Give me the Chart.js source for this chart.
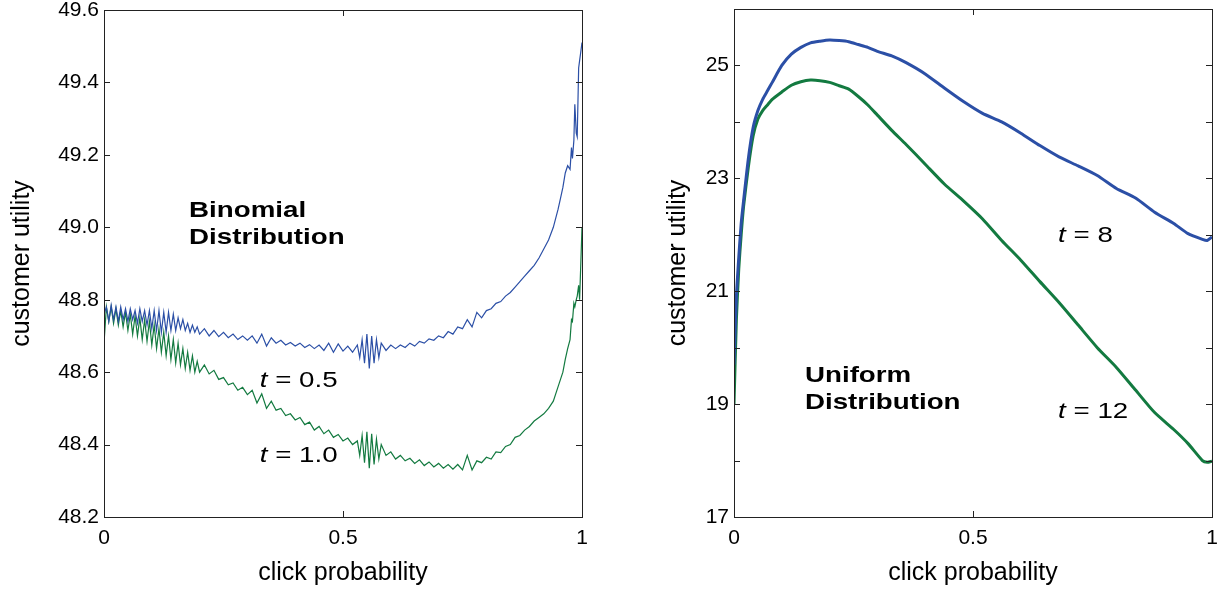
<!DOCTYPE html>
<html>
<head>
<meta charset="utf-8">
<script src="https://cdn.jsdelivr.net/npm/chart.js@4.4.1/dist/chart.umd.min.js"></script>
<style>
  html, body { margin: 0; padding: 0; background: #fff; }
  .box { position: absolute; top: 0; height: 592px; }
  #leftBox { left: 0; width: 600px; }
  #rightBox { left: 650px; width: 573px; }
</style>
</head>
<body>
<div class="box" id="leftBox"><canvas id="binomChart"></canvas></div>
<div class="box" id="rightBox"><canvas id="uniformChart"></canvas></div>
<script>
// Left panel: binomial distribution, click probability vs customer utility
const binomProb = [
  0, 0.005, 0.01, 0.015, 0.02, 0.025, 0.03, 0.035, 0.04, 0.045,
  0.05, 0.055, 0.06, 0.065, 0.07, 0.075, 0.08, 0.085, 0.09, 0.095,
  0.1, 0.105, 0.11, 0.115, 0.12, 0.125, 0.13, 0.135, 0.14, 0.145,
  0.15, 0.155, 0.16, 0.165, 0.17, 0.175, 0.18, 0.185, 0.19, 0.195, 0.2,
  0.21, 0.22, 0.23, 0.24, 0.25, 0.26, 0.27, 0.28, 0.29, 0.30,
  0.31, 0.32, 0.33, 0.34, 0.35, 0.36, 0.37, 0.38, 0.39, 0.40,
  0.41, 0.42, 0.43, 0.44, 0.45, 0.46, 0.47, 0.48, 0.49, 0.50,
  0.51, 0.52, 0.53,
  0.535, 0.54, 0.545, 0.55, 0.555, 0.56, 0.565, 0.57, 0.575, 0.58,
  0.59, 0.60, 0.61, 0.62, 0.63, 0.64, 0.65, 0.66, 0.67, 0.68,
  0.69, 0.70, 0.71, 0.72, 0.73, 0.74, 0.75, 0.76, 0.77, 0.78,
  0.79, 0.80, 0.81, 0.82, 0.83, 0.84, 0.85, 0.86, 0.87, 0.88,
  0.89, 0.90, 0.91, 0.92, 0.93, 0.94, 0.95,
  0.955, 0.96, 0.965, 0.97, 0.975, 0.978, 0.98, 0.983, 0.985, 0.988,
  0.99, 0.993, 0.995, 0.997, 1.0
];

// t = 0.5 (blue)
const binomT05 = [
  48.76, 48.78, 48.74, 48.785, 48.745, 48.78, 48.74, 48.78, 48.745, 48.775,
  48.74, 48.775, 48.745, 48.77, 48.735, 48.775, 48.74, 48.77, 48.73, 48.77,
  48.72, 48.77, 48.715, 48.77, 48.71, 48.765, 48.71, 48.765, 48.715, 48.76,
  48.715, 48.75, 48.72, 48.745, 48.715, 48.735, 48.71, 48.73, 48.71, 48.725, 48.705,
  48.72, 48.70, 48.715, 48.698, 48.71, 48.695, 48.705, 48.69, 48.70, 48.688,
  48.70, 48.68, 48.705, 48.672, 48.695, 48.68, 48.688, 48.675, 48.682, 48.672,
  48.68, 48.668, 48.676, 48.665, 48.675, 48.66, 48.68, 48.655, 48.678, 48.658,
  48.672, 48.655, 48.675,
  48.64, 48.69, 48.625, 48.705, 48.61, 48.70, 48.625, 48.69, 48.64, 48.68,
  48.66, 48.675, 48.665, 48.675, 48.668, 48.68, 48.672, 48.685, 48.68, 48.692,
  48.688, 48.70, 48.695, 48.712, 48.705, 48.725, 48.72, 48.745, 48.725, 48.765,
  48.75, 48.77, 48.775, 48.79, 48.795, 48.81, 48.82, 48.835, 48.85, 48.865,
  48.88, 48.895, 48.915, 48.94, 48.965, 49.0, 49.05,
  49.08, 49.11, 49.15, 49.17, 49.16, 49.22, 49.19, 49.24, 49.34, 49.26,
  49.25, 49.44, 49.46, 49.48, 49.51
];

// t = 1.0 (green)
const binomT10 = [
  48.68, 48.78, 48.74, 48.78, 48.735, 48.775, 48.73, 48.77, 48.725, 48.765,
  48.715, 48.76, 48.705, 48.755, 48.70, 48.75, 48.69, 48.745, 48.685, 48.74,
  48.675, 48.73, 48.665, 48.72, 48.655, 48.71, 48.645, 48.70, 48.635, 48.69,
  48.625, 48.68, 48.62, 48.665, 48.61, 48.655, 48.605, 48.645, 48.60, 48.63, 48.60,
  48.62, 48.595, 48.605, 48.58, 48.585, 48.565, 48.57, 48.55, 48.558, 48.538,
  48.55, 48.515, 48.54, 48.50, 48.52, 48.495, 48.50, 48.48, 48.485, 48.468,
  48.475, 48.455, 48.462, 48.44, 48.45, 48.43, 48.44, 48.42, 48.428, 48.41,
  48.418, 48.40, 48.41,
  48.37, 48.425, 48.35, 48.435, 48.335, 48.43, 48.345, 48.415, 48.36, 48.40,
  48.37, 48.38, 48.36, 48.37, 48.355, 48.362, 48.348, 48.358, 48.342, 48.352,
  48.338, 48.348, 48.335, 48.345, 48.332, 48.345, 48.33, 48.37, 48.33, 48.355,
  48.35, 48.365, 48.36, 48.38, 48.378, 48.395, 48.40, 48.42, 48.425, 48.44,
  48.45, 48.465, 48.475, 48.485, 48.50, 48.52, 48.56,
  48.58, 48.60, 48.635, 48.665, 48.69, 48.745, 48.74, 48.79, 48.78, 48.80,
  48.81, 48.84, 48.80, 48.88, 49.0
];

// Right panel: uniform distribution
const uniformProb = [
  0, 0.005, 0.01, 0.015, 0.02, 0.03, 0.04, 0.05, 0.06, 0.07, 0.08,
  0.1, 0.12, 0.14, 0.16, 0.18, 0.2, 0.22, 0.24, 0.26, 0.28, 0.3,
  0.33, 0.36, 0.4, 0.44, 0.48, 0.52, 0.56, 0.6, 0.64, 0.68, 0.72,
  0.76, 0.8, 0.84, 0.88, 0.92, 0.95, 0.98, 0.99, 1.0
];
// t = 8 (blue)
const uniformT8 = [
  19.7, 20.9, 21.6, 22.2, 22.6, 23.35, 23.9, 24.2, 24.4, 24.55, 24.7,
  25.0, 25.2, 25.32, 25.4, 25.43, 25.45, 25.44, 25.42, 25.37, 25.32, 25.25,
  25.17, 25.05, 24.85, 24.6, 24.36, 24.15, 24.0, 23.8, 23.58, 23.38, 23.22,
  23.05, 22.82, 22.65, 22.4, 22.2, 22.02, 21.92, 21.9, 21.96
];
// t = 12 (green)
const uniformT12 = [
  19.0, 20.5, 21.4, 22.0, 22.5, 23.2, 23.75, 24.05, 24.2, 24.3, 24.4,
  24.53, 24.65, 24.71, 24.74, 24.73, 24.7, 24.64, 24.58, 24.45, 24.3, 24.12,
  23.85, 23.6, 23.25, 22.9, 22.6, 22.28, 21.9, 21.55, 21.17, 20.8, 20.4,
  20.0, 19.65, 19.25, 18.85, 18.55, 18.3, 18.0, 17.97, 17.99
];

const blue = "#2b4fa6";
const green = "#137a40";
const fontFamily = "'Liberation Sans', Arial, Helvetica, sans-serif";

function toPoints(xs, ys) {
  return xs.map(function(x, i) { return { x: x, y: ys[i] }; });
}

// Box round the plot area, tick marks pointing inwards
const framePlugin = {
  id: "frame",
  afterDraw(chart) {
    const ctx = chart.ctx;
    const a = chart.chartArea;
    const xs = chart.scales.x;
    const ys = chart.scales.y;
    const len = 6;
    ctx.save();
    ctx.strokeStyle = "#222";
    ctx.lineWidth = 1;
    ctx.strokeRect(Math.round(a.left) + 0.5, Math.round(a.top) + 0.5,
      Math.round(a.right - a.left), Math.round(a.bottom - a.top));
    ctx.beginPath();
    ys.ticks.forEach(function(t) {
      const py = Math.round(ys.getPixelForValue(t.value)) + 0.5;
      ctx.moveTo(a.left, py); ctx.lineTo(a.left + len, py);
      ctx.moveTo(a.right, py); ctx.lineTo(a.right - len, py);
    });
    xs.ticks.forEach(function(t) {
      const px = Math.round(xs.getPixelForValue(t.value)) + 0.5;
      ctx.moveTo(px, a.bottom); ctx.lineTo(px, a.bottom - len);
      ctx.moveTo(px, a.top); ctx.lineTo(px, a.top + len);
    });
    ctx.stroke();
    ctx.restore();
  }
};

// Text notes placed in data coordinates
const notesPlugin = {
  id: "notes",
  afterDatasetsDraw(chart, args, opts) {
    const ctx = chart.ctx;
    const xs = chart.scales.x;
    const ys = chart.scales.y;
    ctx.save();
    ctx.fillStyle = "#000";
    ctx.textBaseline = "alphabetic";
    ctx.textAlign = "left";
    (opts.items || []).forEach(function(n) {
      const px = xs.getPixelForValue(n.x);
      const py = ys.getPixelForValue(n.y);
      ctx.save();
      ctx.translate(px, py);
      ctx.scale(1.26, 1);
      if (n.tVar) {
        ctx.font = "italic 22px " + fontFamily;
        ctx.fillText("t", 0, 0);
        const w = ctx.measureText("t").width;
        ctx.font = "22px " + fontFamily;
        ctx.fillText(" = " + n.text, w, 0);
      } else {
        ctx.font = "bold 22px " + fontFamily;
        ctx.fillText(n.text, 0, 0);
      }
      ctx.restore();
    });
    ctx.restore();
  }
};

function makeOptions(cfg) {
  return {
    responsive: true,
    maintainAspectRatio: false,
    animation: false,
    layout: { padding: cfg.padding },
    plugins: {
      legend: { display: false },
      tooltip: { enabled: false },
      notes: { items: cfg.notes }
    },
    scales: {
      x: {
        type: "linear",
        min: 0,
        max: 1,
        ticks: {
          stepSize: 0.5,
          padding: 11,
          color: "#000",
          font: { family: fontFamily, size: 21, lineHeight: 1 },
          maxRotation: 0,
          callback: function(v) { return String(v); }
        },
        grid: { display: false, drawTicks: false },
        border: { display: false },
        title: {
          display: true,
          text: "click probability",
          color: "#000",
          font: { family: fontFamily, size: 25 },
          padding: { top: 0, bottom: 4 }
        },
        afterFit(s) {
          s.height = 75;
          s.paddingLeft = 0;
          s.paddingRight = 0;
        }
      },
      y: {
        type: "linear",
        min: cfg.yMin,
        max: cfg.yMax,
        ticks: {
          stepSize: cfg.yStep,
          padding: 5,
          color: "#000",
          font: { family: fontFamily, size: 21, lineHeight: 1 },
          callback: cfg.yLabel
        },
        grid: { display: false, drawTicks: false },
        border: { display: false },
        title: {
          display: true,
          text: "customer utility",
          color: "#000",
          font: { family: fontFamily, size: 25 },
          padding: { top: cfg.titlePad, bottom: 0 }
        },
        afterFit(s) {
          s.width = cfg.yWidth;
          s.paddingTop = 0;
          s.paddingBottom = 0;
        }
      }
    }
  };
}

new Chart(document.getElementById("binomChart"), {
  type: "line",
  data: {
    datasets: [
      { label: "t = 0.5", data: toPoints(binomProb, binomT05), borderColor: blue,
        borderWidth: 1.2, pointRadius: 0, tension: 0 },
      { label: "t = 1.0", data: toPoints(binomProb, binomT10), borderColor: green,
        borderWidth: 1.2, pointRadius: 0, tension: 0 }
    ]
  },
  options: makeOptions({
    padding: { top: 10, right: 18, bottom: 0, left: 0 },
    yMin: 48.2, yMax: 49.6, yStep: 0.2, yWidth: 104, titlePad: 7,
    yLabel: function(v) { return v.toFixed(1); },
    notes: [
      { text: "Binomial", x: 0.178, y: 49.029 },
      { text: "Distribution", x: 0.178, y: 48.954 },
      { text: "0.5", x: 0.326, y: 48.56, tVar: true },
      { text: "1.0", x: 0.326, y: 48.353, tVar: true }
    ]
  }),
  plugins: [framePlugin, notesPlugin]
});

new Chart(document.getElementById("uniformChart"), {
  type: "line",
  data: {
    datasets: [
      { label: "t = 8", data: toPoints(uniformProb, uniformT8), borderColor: blue,
        borderWidth: 3, pointRadius: 0, tension: 0.2 },
      { label: "t = 12", data: toPoints(uniformProb, uniformT12), borderColor: green,
        borderWidth: 3, pointRadius: 0, tension: 0.2 }
    ]
  },
  options: makeOptions({
    padding: { top: 9, right: 11, bottom: 0, left: 0 },
    yMin: 17, yMax: 26, yStep: 1, yWidth: 84, titlePad: 13,
    yLabel: function(v) { return v % 2 === 1 ? String(v) : ""; },
    notes: [
      { text: "Uniform", x: 0.1485, y: 19.40 },
      { text: "Distribution", x: 0.1485, y: 18.906 },
      { text: "8", x: 0.678, y: 21.87, tVar: true },
      { text: "12", x: 0.678, y: 18.76, tVar: true }
    ]
  }),
  plugins: [framePlugin, notesPlugin]
});
</script>
</body>
</html>
